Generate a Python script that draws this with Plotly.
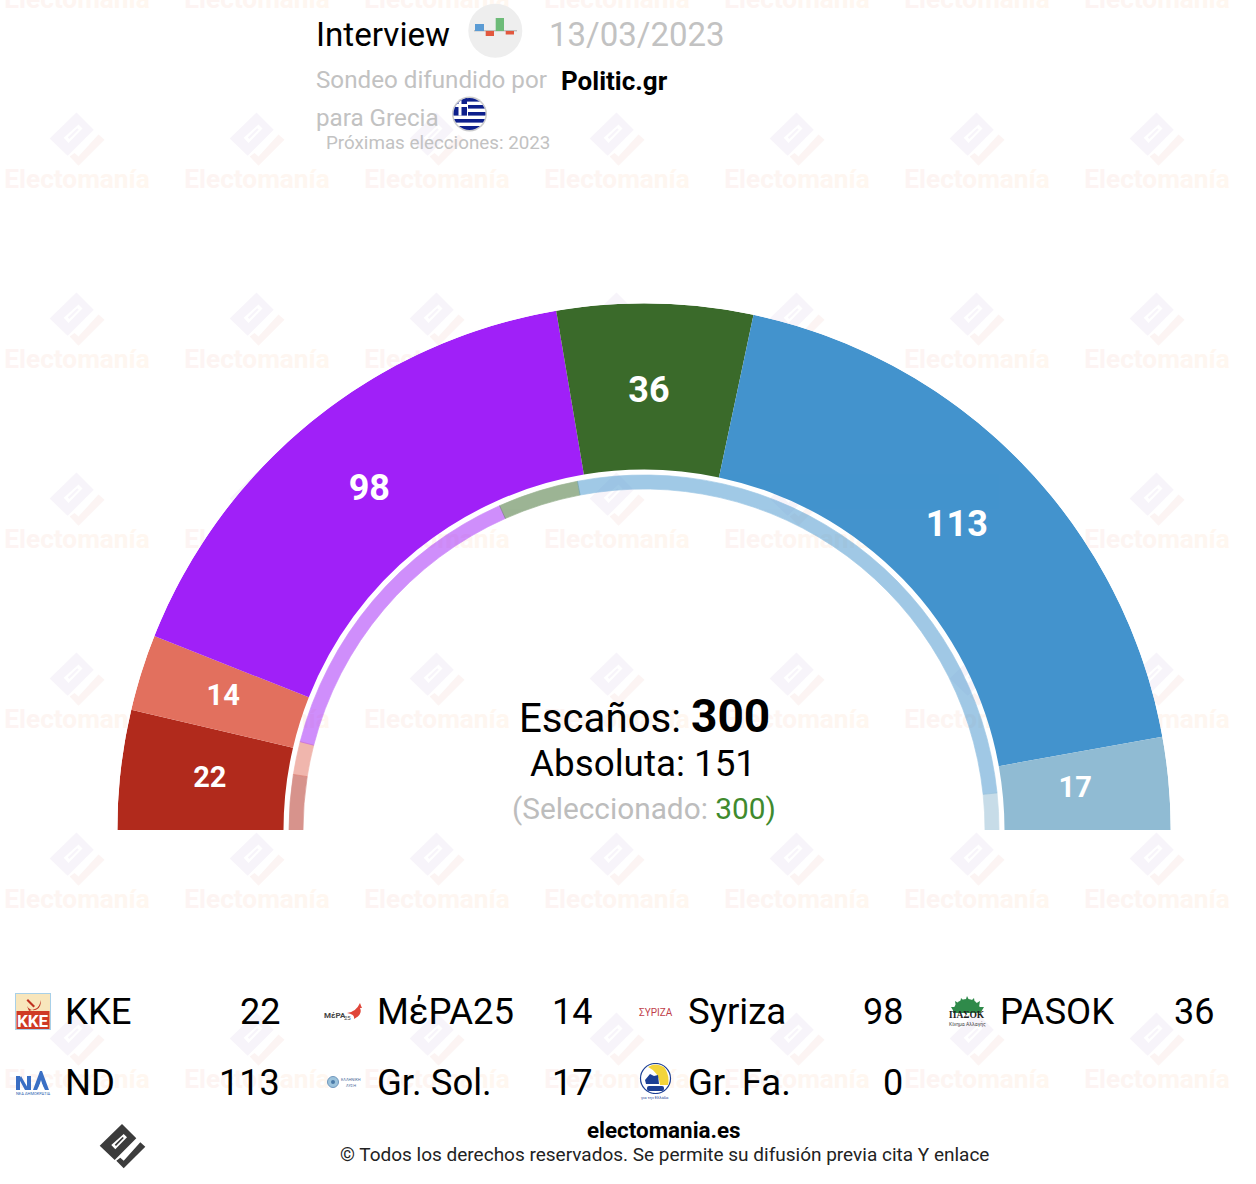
import base64
import plotly.graph_objects as go

W = 1256
H = 1184

# parties, left to right round the arc
parties = ["KKE", "MέPA25", "Syriza", "PASOK", "ND", "Gr. Sol.", "Gr. Fa."]
seats = [22, 14, 98, 36, 113, 17, 0]
last_seats = [15, 9, 86, 22, 158, 10, 0]  # inner ring
colors = ["#b12a1c", "#e2705e", "#a020f8", "#3a6a2a", "#4393cd", "#90bbd3", "#1c3f94"]
total_seats = 300
majority = 151
selected = 300

pollster = "Politic.gr"
poll_date = "13/03/2023"
poll_type = "Interview"
wm_fade = ["#fdf4f3", "#fdf4f3", "#fdf4f2", "#fdf5f2", "#fdf5f2", "#fef5f1",
           "#fef6f1", "#fef6f1", "#fef6f0", "#fff7f0", "#fff7f0"]


def px_to_paper(x, y):
    return x / W, 1 - y / H


def poly(cx, cy, k, pts):
    return "M" + " L".join(f"{cx + a * k:.1f},{cy + b * k:.1f}" for a, b in pts) + " Z "


# the electomania mark, points measured on the footer copy
logo_main = [(0, -22), (14.3, -7.7), (-7.3, 14), (-22.3, -0.3)]
logo_hole = [(1.7, -12), (5, -8.7), (-6.7, 3.3), (-10.7, -1)]
logo_bar = [(0.6, -9), (1.8, -8), (-6, 0), (-7.3, -1.3)]
logo_tick = [(18.3, -3.7), (23.3, 0.7), (1.7, 22.3), (-5.7, 14.7), (-1.7, 11.7), (1.7, 14.7)]


def logo_body(cx, cy, k):
    return poly(cx, cy, k, logo_main) + poly(cx, cy, k, logo_hole) + poly(cx, cy, k, logo_bar)


fig = go.Figure()

# watermark text goes on a hidden cartesian layer so the arc covers it
wm_x = []
wm_y = []
for row in range(7):
    for col in range(7):
        wm_x.append(77 + 180 * col)
        wm_y.append(1.5 + 180 * row)
wm_text = "".join(f'<span style="color:{c}">{ch}</span>' for ch, c in zip("Electomanía", wm_fade))
fig.add_trace(go.Scatter(x=wm_x, y=wm_y, mode="text", text=[wm_text] * len(wm_x),
                         textposition="middle center", cliponaxis=False, hoverinfo="skip",
                         textfont=dict(family="Roboto", size=26.2, weight="bold", color="#fef5f1"),
                         showlegend=False))


def lay_out(values):
    # bars end to end along the half circle
    scale = 180 / total_seats
    run = 0
    mids = []
    widths = []
    for v in values:
        mids.append((run + v / 2) * scale)
        widths.append(v * scale)
        run += v
    return mids, widths


mids, widths = lay_out(seats)
ring_mids, ring_widths = lay_out(last_seats)

fig.add_trace(go.Barpolar(theta=mids, width=widths, r=[166.2] * len(seats), base=360.5,
                          marker=dict(color=colors, line=dict(width=0)),
                          hoverinfo="skip", showlegend=False))
fig.add_trace(go.Barpolar(theta=ring_mids, width=ring_widths, r=[14] * len(seats), base=341,
                          marker=dict(color=colors, opacity=0.5, line=dict(width=0.7, color=colors)),
                          hoverinfo="skip", showlegend=False))

# the labels do not sit quite on the band's middle in the original
label_r = [437, 441, 436.5, 437, 435.6, 433]
label_nudge = [-0.03, 0, 0, -0.55, 0, -0.17]
shown = [i for i, s in enumerate(seats) if s > 0]
fig.add_trace(go.Scatterpolar(theta=[mids[i] + n for i, n in zip(shown, label_nudge)], r=label_r, mode="text",
                              text=[str(seats[i]) for i in shown],
                              textfont=dict(family="Roboto", color="white", weight="bold",
                                            size=[36 if seats[i] > 30 else 29 for i in shown]),
                              hoverinfo="skip", showlegend=False))


def label(x, y, text, size, color="#000000", anchor="left", bold=False, family="Roboto"):
    fig.add_annotation(x=x, y=y, xref="x", yref="y", text=f"<b>{text}</b>" if bold else text,
                       showarrow=False, xanchor=anchor, yanchor="middle",
                       font=dict(family=family, size=size, color=color), borderpad=0, borderwidth=0)


grey = "#c2c2c2"
label(316, 34, poll_type, 33.2)
label(549, 34, poll_date, 33, grey)
label(316, 80, "Sondeo difundido por", 24.2, grey)
label(561, 80.5, pollster, 26, bold=True)
label(316, 118, "para Grecia", 24.2, grey)
label(326, 142.5, "Próximas elecciones: 2023", 18.8, grey)

label(770, 715.5, f'Escaños: <b style="font-size:46px">{total_seats}</b>', 40.2, anchor="right")
label(642.5, 763.5, f"Absoluta: {majority}", 36.8, anchor="center")
label(643.5, 808.5, f'(Seleccionado: <span style="color:#3f8a2e">{selected})</span>', 29.8, "#bdbdbd", anchor="center")

# legend, four columns by two rows
name_x = [65, 377, 688, 999.5]
value_x = [280, 592, 903, 1214]
row_y = [1011.5, 1082.5]
for i, (name, s) in enumerate(zip(parties, seats)):
    c = i % 4
    r = i // 4
    label(name_x[c], row_y[r], name, 36.5)
    label(value_x[c], row_y[r], str(s), 36, anchor="right")

label(664, 1130, "electomania.es", 22.4, anchor="center", bold=True)
label(664, 1154, "© Todos los derechos reservados. Se permite su difusión previa cita Y enlace", 19,
      "#222222", anchor="center")

# small party marks; their names are real text on top
label(33, 1021, "<b>KKE</b>", 17, "white", anchor="center")
label(335, 1015, "<b>MέPA</b>", 8, "#444444", anchor="center")
label(347, 1017, "25", 6, "#444444", anchor="center")
label(656, 1012, "ΣΥΡΙΖΑ", 10, "#c0404a", anchor="center")
label(967, 1015, "<b>ΠΑΣΟΚ</b>", 9.5, "#222222", anchor="center", family="Liberation Serif")
label(967, 1024, "Κίνημα Αλλαγής", 5, "#444444", anchor="center")
label(33, 1093, "ΝΕΑ ΔΗΜΟΚΡΑΤΙΑ", 4, "#2e5fb0", anchor="center")
label(351, 1079, "ΕΛΛΗΝΙΚΗ", 4, "#4a6a9a", anchor="center")
label(351, 1085, "ΛΥΣΗ", 4, "#4a6a9a", anchor="center")
label(655, 1097, "για την Ελλάδα", 4, "#1c3f94", anchor="center")

icons = [
    (468, 3, 56, 56,
     '<circle cx="27.3" cy="27.7" r="27" fill="#eeeeee"/>'
     '<rect x="6" y="27.3" width="43" height="1" fill="#aaaaaa"/>'
     '<rect x="7" y="21" width="9" height="7" fill="#5a9bd4"/>'
     '<rect x="17.7" y="28" width="8.3" height="5" fill="#e2583e"/>'
     '<rect x="27.7" y="15" width="8.3" height="13" fill="#6dbb78"/>'
     '<rect x="37.7" y="28" width="8.3" height="3.5" fill="#e2583e"/>'),
    (452, 96, 36, 36,
     '<defs><clipPath id="f"><circle cx="17.5" cy="18" r="16"/></clipPath></defs>'
     '<circle cx="17.5" cy="18" r="17.5" fill="#cccccc"/>'
     '<g clip-path="url(#f)"><rect width="36" height="36" fill="#ffffff"/>'
     '<rect y="2" width="36" height="3.6" fill="#0d1f8c"/><rect x="16" y="9" width="20" height="3.6" fill="#0d1f8c"/>'
     '<rect x="16" y="16" width="20" height="3.6" fill="#0d1f8c"/><rect y="23" width="36" height="3.6" fill="#0d1f8c"/>'
     '<rect y="30" width="36" height="6" fill="#0d1f8c"/><rect width="15" height="19.6" fill="#0d1f8c"/>'
     '<rect x="6.5" width="3" height="19.6" fill="#ffffff"/><rect y="8" width="15" height="3" fill="#ffffff"/></g>'),
    (15, 993, 36, 37,
     '<rect x="0.5" y="0.5" width="35" height="36" fill="#f8e6bc" stroke="#a8d0e8"/>'
     '<rect x="1.5" y="18" width="33" height="18" fill="#cf3a24"/>'
     '<path d="M12 13 a7 7 0 0 0 13 -6 a8 8 0 0 1 -5 9 l-6 2 Z M13 6 l7 7 l-1.5 1.5 l-7 -7 Z" fill="#c0301f"/>'),
    (347, 1003, 16, 17,
     '<path d="M0 10 Q9 9 13 0 Q14 3 15 5 L13 5 Q16 11 7 16 Q8 11 0 10 Z" fill="#e0463a"/>'),
    (950, 996, 35, 18,
     '<path d="M3 17 A14 14 0 0 1 31 17 Z" fill="#2f8a4a"/>'
     '<path d="M17 0 l3 6 l4 -4 l1 6 l5 -3 l-1 6 l5 0 l-3 5 h-27 l-3 -5 l5 0 l-1 -6 l5 3 l1 -6 l4 4 Z" fill="#2f8a4a"/>'),
    (16, 1070, 34, 21,
     '<path d="M0 20 L0 6 L4 6 L4 20 Z M5 6 L13 20 L9 20 L3 9 Z M11 6 L15 6 L15 20 L11 20 Z" fill="#3a6fc4"/>'
     '<path d="M17 20 L24 1 L26 1 L33 20 L28 20 L25 10 L22 20 Z" fill="#3a6fc4"/>'
     '<path d="M21 20 L25 12 L29 20 Z" fill="#ffffff"/>'),
    (327, 1076, 12, 12, '<circle cx="6" cy="6" r="5.5" fill="#9cc3dc" stroke="#6f97bd"/><circle cx="6" cy="6" r="2" fill="#4a7aa8"/>'),
    (639, 1063, 33, 31,
     '<circle cx="16.5" cy="15.5" r="15" fill="#ffffff" stroke="#1c3f94" stroke-width="1.2"/>'
     '<path d="M9 4 Q16 -1 25 4 Q31 12 29 22 L21 22 Q20 9 9 4 Z" fill="#f3d43a"/>'
     '<path d="M6 17 L11 11 L15 13 L19 12 L20 21 L7 21 Z" fill="#1c3f94"/>'
     '<rect x="8" y="23" width="17" height="5" rx="2" fill="#1c3f94"/>'),
]
images = []
for x, y, w, h, body in icons:
    svg = f'<svg xmlns="http://www.w3.org/2000/svg" width="{w}" height="{h}" viewBox="0 0 {w} {h}">{body}</svg>'
    px, py = px_to_paper(x, y)
    images.append(dict(source="data:image/svg+xml;base64," + base64.b64encode(svg.encode()).decode(),
                       xref="paper", yref="paper", x=px, y=py, sizex=w / W, sizey=h / H,
                       xanchor="left", yanchor="top", sizing="stretch", layer="above"))

# watermark marks and the dark one in the footer
shapes = []
for row in range(6):
    for col in range(7):
        cx = 76.5 + 180 * col
        cy = 139 + 180 * row
        shapes.append(dict(type="path", xref="x", yref="y", layer="below", line_width=0,
                           path=logo_body(cx, cy, 1.2), fillrule="evenodd", fillcolor="#f7f4fa"))
        shapes.append(dict(type="path", xref="x", yref="y", layer="below", line_width=0,
                           path=poly(cx, cy, 1.2, logo_tick), fillcolor="#fcf4f3"))
shapes.append(dict(type="path", xref="x", yref="y", layer="above", line_width=0,
                   path=logo_body(122, 1146, 1.0) + poly(122, 1146, 1.0, logo_tick),
                   fillrule="evenodd", fillcolor="#3c3c3c"))

d_x0, d_y1 = px_to_paper(117.3, 303.3)
d_x1, d_y0 = px_to_paper(1170.7, 830)
fig.update_layout(
    width=W, height=H, margin=dict(l=0, r=0, t=0, b=0),
    paper_bgcolor="white", plot_bgcolor="rgba(0,0,0,0)",
    showlegend=False, shapes=shapes, images=images,
    xaxis=dict(range=[0, W], visible=False, fixedrange=True),
    yaxis=dict(range=[H, 0], visible=False, fixedrange=True),
    polar=dict(domain=dict(x=[d_x0, d_x1], y=[d_y0, d_y1]), sector=[0, 180], hole=0,
               bgcolor="rgba(0,0,0,0)",
               angularaxis=dict(visible=False, direction="clockwise", rotation=180, thetaunit="degrees"),
               radialaxis=dict(visible=False, range=[0, 526.7])),
    barmode="overlay",
)

fig.write_html("out.html", config=dict(displayModeBar=False), post_script="document.body.style.margin='0';")
